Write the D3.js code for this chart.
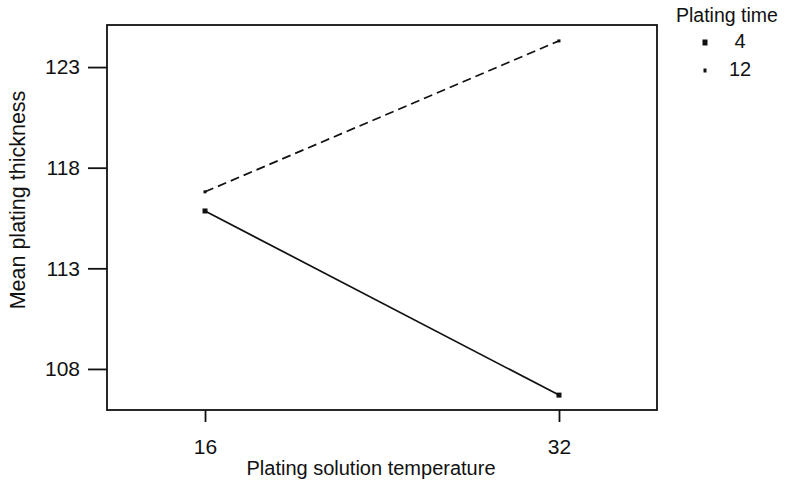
<!DOCTYPE html>
<meta charset="utf-8">
<style>
body { margin: 0; background: #fff; }
text { font-family: "Liberation Sans", Arial, Helvetica, sans-serif; fill: #111; }
</style>
<body>
<script src="https://d3js.org/d3.v7.min.js"></script>
<script>

var temps = [16, 32];
var timeLabels = ["4", "12"];
var mean4 = [115.85, 106.7];
var mean12 = [116.8, 124.3];
var yTicks = [108, 113, 118, 123];

var width = 785, height = 486;
var plotLeft = 107, plotRight = 657, plotTop = 25, plotBottom = 410;

var x = d3.scaleLinear().domain([11.57, 36.43]).range([plotLeft, plotRight]);
var y = d3.scaleLinear().domain([105.96, 125.09]).range([plotBottom, plotTop]);

var svg = d3.select("body").append("svg")
    .attr("width", width)
    .attr("height", height);

// frame
svg.append("rect")
    .attr("x", plotLeft).attr("y", plotTop)
    .attr("width", plotRight - plotLeft).attr("height", plotBottom - plotTop)
    .attr("fill", "none").attr("stroke", "#111").attr("stroke-width", 1.8);

var yAxis = d3.axisLeft(y).tickValues(yTicks).tickSize(19).tickPadding(8).tickFormat(d3.format("d"));
var xAxis = d3.axisBottom(x).tickValues(temps).tickSize(12).tickPadding(17).tickFormat(d3.format("d"));

var gy = svg.append("g").attr("transform", `translate(${plotLeft},0)`).call(yAxis);
var gx = svg.append("g").attr("transform", `translate(0,${plotBottom})`).call(xAxis);

[gy, gx].forEach(function(g) {
  g.select(".domain").remove();
  g.selectAll("line").attr("stroke", "#111").attr("stroke-width", 1.8);
  g.selectAll("text").style("font-size", "21px").attr("fill", "#111");
});

svg.append("text")
    .attr("x", 371).attr("y", 475)
    .attr("text-anchor", "middle")
    .style("font-size", "20px")
    .text("Plating solution temperature");

svg.append("text")
    .attr("transform", "translate(25,200) rotate(-90)")
    .attr("text-anchor", "middle")
    .style("font-size", "21.5px")
    .text("Mean plating thickness");

var series = [
  {name: timeLabels[0], values: mean4, dash: null, size: 5},
  {name: timeLabels[1], values: mean12, dash: "9,5", size: 3}
];

var line = d3.line()
    .x((d, i) => x(temps[i]))
    .y(d => y(d));

series.forEach(function(s) {
  svg.append("path")
      .attr("d", line(s.values))
      .attr("fill", "none")
      .attr("stroke", "#111")
      .attr("stroke-width", 1.7)
      .attr("stroke-dasharray", s.dash);

  svg.selectAll(null)
    .data(s.values)
    .enter()
    .append("rect")
      .attr("x", (d, i) => x(temps[i]) - s.size / 2)
      .attr("y", d => y(d) - s.size / 2)
      .attr("width", s.size)
      .attr("height", s.size)
      .attr("fill", "#111");
});

// legend
svg.append("text")
    .attr("x", 676).attr("y", 22)
    .style("font-size", "19.5px")
    .text("Plating time");

var leg = svg.selectAll("g.leg")
    .data(series)
    .enter()
    .append("g")
      .attr("class", "leg")
      .attr("transform", (d, i) => `translate(0,${42 + i * 28})`);

leg.append("rect")
    .attr("x", d => 705 - d.size / 2)
    .attr("y", d => -d.size / 2)
    .attr("width", d => d.size)
    .attr("height", d => d.size + 1)
    .attr("fill", "#111");

leg.append("text")
    .attr("x", 740).attr("y", 6)
    .attr("text-anchor", "middle")
    .style("font-size", "20px")
    .text(d => d.name);

</script>
